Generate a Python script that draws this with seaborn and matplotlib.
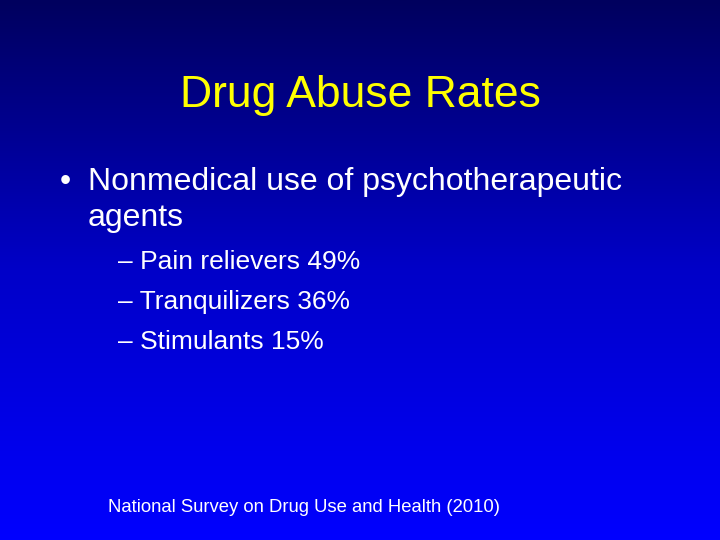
import numpy as np
import matplotlib
matplotlib.use("Agg")
import matplotlib.pyplot as plt
import seaborn as sns
from matplotlib.colors import LinearSegmentedColormap

title = "Drug Abuse Rates"
bullet_lines = ["Nonmedical use of psychotherapeutic", "agents"]
agents = ["Pain relievers", "Tranquilizers", "Stimulants"]
percents = [49, 36, 15]
source = "National Survey on Drug Use and Health (2010)"

sns.set_style("white")
plt.rcParams["font.family"] = ["Liberation Sans", "DejaVu Sans"]

fig = plt.figure(figsize=(7.2, 5.4), dpi=100)
ax = fig.add_axes([0, 0, 1, 1])
cmap = LinearSegmentedColormap.from_list("slide", ["#00005e", "#0000c8", "#0000ff"])
grad = np.linspace(0, 1, 256).reshape(-1, 1)
ax.imshow(grad, aspect="auto", cmap=cmap, extent=[0, 720, 540, 0])
ax.set_xlim(0, 720)
ax.set_ylim(540, 0)
ax.axis("off")

ax.text(360, 95, title, color="#ffff00", fontsize=32, ha="center", va="center")
ax.text(60, 182, "•", color="white", fontsize=23, va="center")
ax.text(88, 182, bullet_lines[0], color="white", fontsize=23, va="center")
ax.text(88, 218, bullet_lines[1], color="white", fontsize=23, va="center")
for i, (a, p) in enumerate(zip(agents, percents)):
    ax.text(118, 262 + 40 * i, f"– {a} {p}%", color="white", fontsize=19, va="center")
ax.text(108, 507, source, color="white", fontsize=13.3, va="center")

fig.savefig("out.png", dpi=100)
